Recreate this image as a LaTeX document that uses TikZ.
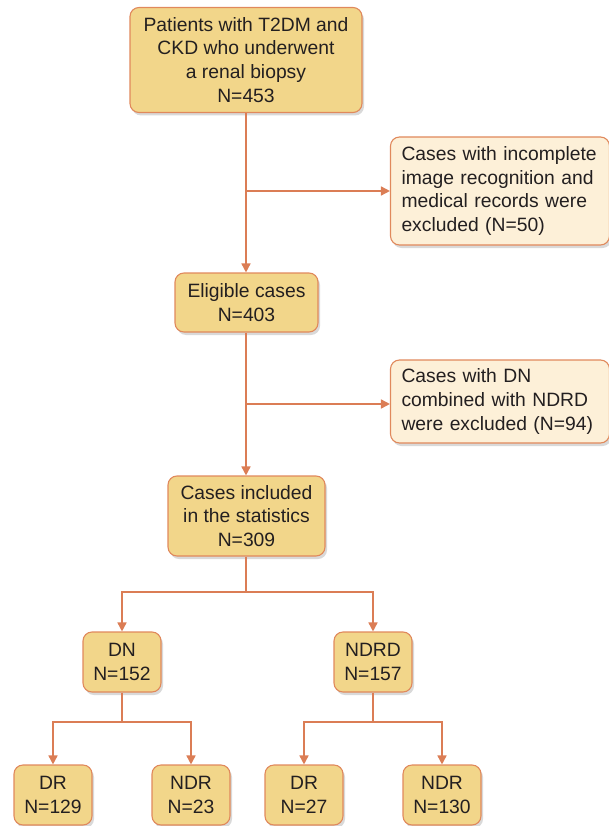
\documentclass[tikz,border=0pt]{standalone}
\usepackage{fontspec}
\setmainfont{Liberation Sans}
\usetikzlibrary{shadows,arrows.meta}
\definecolor{boxfill}{HTML}{F2D68A}
\definecolor{boxline}{HTML}{E0895C}
\definecolor{exfill}{HTML}{FDF0D8}
\definecolor{arrowc}{HTML}{DB7D55}
\definecolor{txt}{HTML}{231F20}
\tikzset{
  basebox/.style={draw=boxline, line width=1.1pt, rounded corners=9pt, align=center,
    text=txt, font=\fontsize{19.3}{23.8}\selectfont, inner sep=0pt,
    drop shadow={shadow xshift=2pt, shadow yshift=-3pt, opacity=0.25, fill=black!60}},
  mainbox/.style={basebox, fill=boxfill},
  exbox/.style={basebox, fill=exfill, align=left},
  conn/.style={draw=arrowc, line width=1.6pt},
  arr/.style={conn, -{Triangle[length=9pt,width=9pt]}}
}
\begin{document}
\begin{tikzpicture}[x=1pt,y=-1pt]
\useasboundingbox (0,0) rectangle (609,826);
\node[mainbox, minimum width=232pt, minimum height=105pt] (top) at (246,60)
  {Patients with T2DM and\\CKD who underwent\\a renal biopsy\\N=453};
\node[exbox, minimum width=219pt, minimum height=108pt, text width=197pt] (ex1) at (500,191)
  {Cases with incomplete\\image recognition and\\medical records were\\excluded (N=50)};
\node[mainbox, minimum width=143pt, minimum height=59pt] (elig) at (246.5,302.5)
  {Eligible cases\\N=403};
\node[exbox, minimum width=219pt, minimum height=83pt, text width=197pt] (ex2) at (500,401.5)
  {Cases with DN\\combined with NDRD\\were excluded (N=94)};
\node[mainbox, minimum width=157pt, minimum height=80pt] (incl) at (246.5,516)
  {Cases included\\in the statistics\\N=309};
\node[mainbox, minimum width=78pt, minimum height=60pt] (dn) at (122,662) {DN\\N=152};
\node[mainbox, minimum width=78pt, minimum height=60pt] (ndrd) at (373,662) {NDRD\\N=157};
\node[mainbox, minimum width=78pt, minimum height=60pt] (dr1) at (53,795) {DR\\N=129};
\node[mainbox, minimum width=78pt, minimum height=60pt] (ndr1) at (191,795) {NDR\\N=23};
\node[mainbox, minimum width=78pt, minimum height=60pt] (dr2) at (304,795) {DR\\N=27};
\node[mainbox, minimum width=78pt, minimum height=60pt] (ndr2) at (442,795) {NDR\\N=130};
% main spine
\coordinate (b1) at (246,191);
\coordinate (b2) at (246,404);
\draw[arr] (top.south -| b1) -- (elig.north -| b1);
\draw[arr] (b1) -- (ex1.west |- b1);
\draw[arr] (elig.south -| b2) -- (incl.north -| b2);
\draw[arr] (b2) -- (ex2.west |- b2);
% split
\coordinate (s1) at (246,592);
\draw[conn] (incl.south -| s1) -- (s1);
\draw[arr] (s1) -| (dn.north);
\draw[arr] (s1) -| (ndrd.north);
\coordinate (s2) at (122,722);
\draw[conn] (dn.south) -- (s2);
\draw[arr] (s2) -| (dr1.north);
\draw[arr] (s2) -| (ndr1.north);
\coordinate (s3) at (373,722);
\draw[conn] (ndrd.south) -- (s3);
\draw[arr] (s3) -| (dr2.north);
\draw[arr] (s3) -| (ndr2.north);
\end{tikzpicture}
\end{document}
